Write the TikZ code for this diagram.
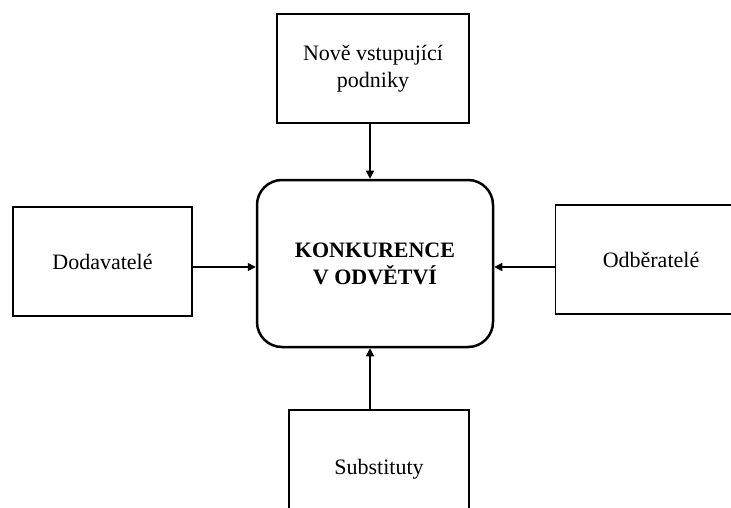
\documentclass[tikz,border=0pt]{standalone}
\usepackage{fontspec}
\setmainfont{Liberation Serif}
\usetikzlibrary{arrows.meta}

\tikzset{
  box/.style={draw=black, line width=1.3pt, align=center,
    minimum width=#1, minimum height=109pt, inner sep=2pt},
  mainbox/.style={draw=black, line width=2.5pt, rounded corners=25pt,
    align=center, minimum width=236pt, minimum height=167pt,
    font=\fontsize{22}{27}\selectfont\bfseries},
  arr/.style={line width=1.5pt, -{Triangle[length=8pt, width=8pt]}}
}

\begin{document}
\begin{tikzpicture}[x=1pt, y=1pt, font=\fontsize{22}{26.5}\selectfont]
  %% page frame, the right and bottom boxes run off it
  \useasboundingbox (0,0) rectangle (731,-508);
  \clip (0,0) rectangle (731,-508);

  \node[mainbox] (ctr) at (375,-263.5) {KONKURENCE\\V ODVĚTVÍ};

  \node[box=192pt] (entry) at (373,-68.5) {Nově vstupující\\podniky};
  \node[box=179pt] (supp) at (102.5,-261.5) {Dodavatelé};
  \node[box=191pt] (cust) at (651,-259.5) {Odběratelé};
  \node[box=180pt, minimum height=118pt] (subst) at (379,-469) {Substituty};

  %% forces pointing at the centre
  \draw[arr] ([xshift=-3pt]entry.south) -- ([xshift=-3pt]entry.south |- ctr.north);
  \draw[arr] ([xshift=-9pt]subst.north) -- ([xshift=-9pt]subst.north |- ctr.south);
  \draw[arr] ([yshift=-5.5pt]supp.east) -- ([yshift=-5.5pt]supp.east -| ctr.west);
  \draw[arr] ([yshift=-7.5pt]cust.west) -- ([yshift=-7.5pt]cust.west -| ctr.east);
\end{tikzpicture}
\end{document}
